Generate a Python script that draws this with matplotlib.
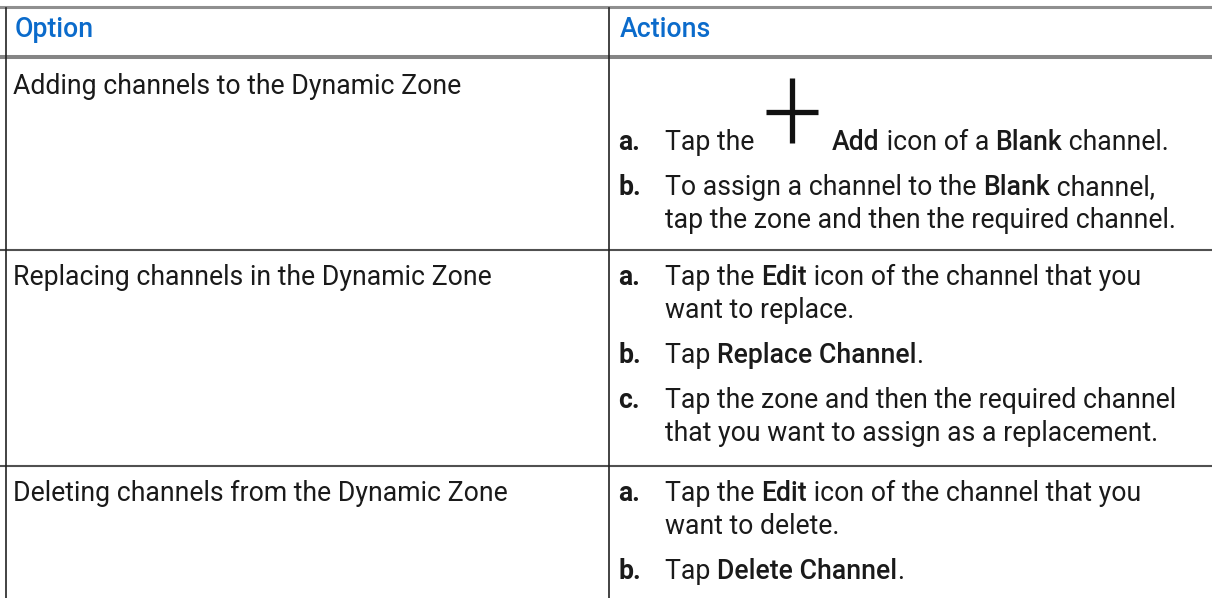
import matplotlib
matplotlib.use("Agg")
import matplotlib.pyplot as plt

# ---------------------------------------------------------------
# Table content
# ---------------------------------------------------------------
HEADERS = ["Option", "Actions"]

OPTIONS = [
    "Adding channels to the Dynamic Zone",
    "Replacing channels in the Dynamic Zone",
    "Deleting channels from the Dynamic Zone",
]

# each step: (label, list of lines); each line is a list of (text, bold) runs
# "<ICON>" marks where the plus icon sits inline
ACTIONS = [
    [
        ("a.", [[("Tap the ", False), ("<ICON>", False), ("Add", True),
                 (" icon of a ", False), ("Blank", True), (" channel.", False)]]),
        ("b.", [[("To assign a channel to the ", False), ("Blank", True), (" channel,", False)],
                [("tap the zone and then the required channel.", False)]]),
    ],
    [
        ("a.", [[("Tap the ", False), ("Edit", True), (" icon of the channel that you", False)],
                [("want to replace.", False)]]),
        ("b.", [[("Tap ", False), ("Replace Channel", True), (".", False)]]),
        ("c.", [[("Tap the zone and then the required channel", False)],
                [("that you want to assign as a replacement.", False)]]),
    ],
    [
        ("a.", [[("Tap the ", False), ("Edit", True), (" icon of the channel that you", False)],
                [("want to delete.", False)]]),
        ("b.", [[("Tap ", False), ("Delete Channel", True), (".", False)]]),
    ],
]

# ---------------------------------------------------------------
# Layout (pixels)
# ---------------------------------------------------------------
W, H = 1212, 598
COL_X = 609
ROW_LINES = [250, 466]
ROW_TOPS = [59, 250, 466]
FS = 19.2
LINE_GAP = 33
STEP_GAP = 45
TEXT_COLOR = "#1a1a1a"
HEAD_COLOR = "#0b6bcb"
ICON_W = 71

plt.rcParams['font.family'] = ['Roboto', 'DejaVu Sans']

fig = plt.figure(figsize=(W / 100, H / 100), dpi=100)
ax = fig.add_axes([0, 0, 1, 1])
ax.set_xlim(0, W)
ax.set_ylim(H, 0)
ax.axis('off')
renderer = fig.canvas.get_renderer()


def text_w(s, weight):
    # width including leading/trailing spaces (dot trick)
    t1 = ax.text(0, 0, "." + s + ".", fontsize=FS, fontweight=weight)
    t2 = ax.text(0, 0, "..", fontsize=FS, fontweight=weight)
    w = t1.get_window_extent(renderer).width - t2.get_window_extent(renderer).width
    t1.remove()
    t2.remove()
    return w


def draw_plus(cx, cy):
    ax.plot([cx - 26, cx + 26], [cy, cy], color="#111111", lw=3.8,
            solid_capstyle='butt')
    ax.plot([cx, cx], [cy - 34, cy + 31], color="#111111", lw=3.8,
            solid_capstyle='butt')


def draw_runs(x, y, runs):
    for s, bold in runs:
        if s == "<ICON>":
            draw_plus(x + 31, y - 38)
            x += ICON_W
            continue
        weight = 'medium' if bold else 'normal'
        ax.text(x, y, s, fontsize=FS, fontweight=weight, color=TEXT_COLOR,
                va='baseline', ha='left')
        x += text_w(s, weight)


# grid lines
ax.plot([0, W], [6.5, 6.5], color="#8f8f8f", lw=2.2)
ax.plot([0, W], [57, 57], color="#858585", lw=2.9)
for yl in ROW_LINES:
    ax.plot([0, W], [yl, yl], color="#505050", lw=1.5)
for xl in [6, COL_X]:
    ax.plot([xl, xl], [8, H], color="#222222", lw=1.2)

# header
ax.text(15, 37, HEADERS[0], fontsize=FS, fontweight='medium', color=HEAD_COLOR,
        va='baseline')
ax.text(620, 37, HEADERS[1], fontsize=FS, fontweight='medium', color=HEAD_COLOR,
        va='baseline')

# rows
first_base = [150, 285, 501]
for i, (opt, steps) in enumerate(zip(OPTIONS, ACTIONS)):
    ax.text(13, ROW_TOPS[i] + 35, opt, fontsize=FS, color=TEXT_COLOR, va='baseline')
    y = first_base[i]
    for label, lines in steps:
        ax.text(618, y, label, fontsize=FS, fontweight='bold', color=TEXT_COLOR,
                va='baseline')
        for k, runs in enumerate(lines):
            draw_runs(665, y, runs)
            if k < len(lines) - 1:
                y += LINE_GAP
        y += STEP_GAP

fig.savefig("out.png", dpi=100, facecolor="white")
